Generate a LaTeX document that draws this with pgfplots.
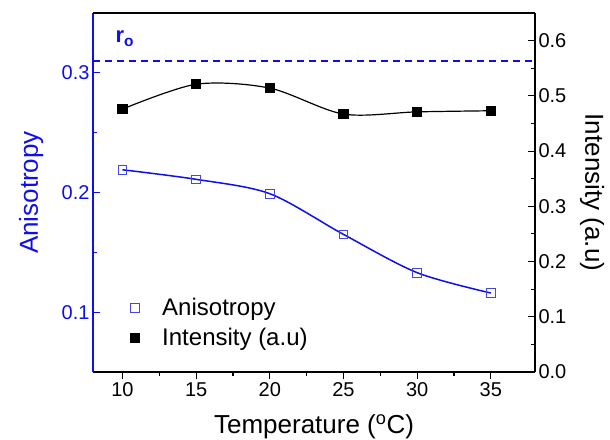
\documentclass[border=0pt]{standalone}
\usepackage{pgfplots}
\pgfplotsset{compat=1.18}
\usepackage{fontspec}
\setmainfont{Liberation Sans}
\definecolor{ablue}{RGB}{15,15,235}
\definecolor{mblue}{RGB}{70,70,230}
\begin{document}
\begin{tikzpicture}[x=1pt,y=1pt]
\useasboundingbox (0,0) rectangle (610,439);
\pgfplotsset{
  common/.style={
    at={(93pt,67pt)}, anchor=south west,
    width=442pt, height=359pt, scale only axis,
    xmin=8, xmax=38,
    major tick length=7pt, minor tick length=4pt,
    ticklabel style={font=\fontsize{20}{24}\selectfont},
    /pgf/number format/assume math mode=true,
    /pgf/number format/fixed, /pgf/number format/fixed zerofill,
    /pgf/number format/precision=1,
    axis line style={line width=1.3pt},
    every tick/.style={line width=1.1pt},
    xtick align=outside, ytick align=inside,
  }
}
\begin{axis}[common,
  ymin=0.05, ymax=0.35,
  axis y line*=left, axis x line*=bottom,
  xtick={10,15,20,25,30,35}, minor x tick num=1,
  xticklabel style={/pgf/number format/precision=0, /pgf/number format/fixed zerofill=false},
  ytick={0.1,0.2,0.3}, minor y tick num=1,
  y axis line style={ablue},
  ytick style={ablue, line width=1.1pt},
  minor y tick style={ablue},
  yticklabel style={text=ablue},
  every axis y label/.style={at={(axis description cs:-0.14,0.5)}, anchor=center, rotate=90},
  every axis x label/.style={at={(axis description cs:0.5,-0.153)}, anchor=center},
  ylabel={\textcolor{ablue}{Anisotropy}},
  xlabel={Temperature (\textsuperscript{o}C)},
  label style={font=\fontsize{26}{30}\selectfont},
]
\addplot[ablue, line width=1.5pt, dash pattern=on 7pt off 5pt] coordinates {(8,0.31) (38,0.31)};
\addplot[ablue, line width=1.5pt, smooth, mark=square, mark size=4.3pt,
  mark options={solid, mblue, line width=0.9pt, fill=none}] coordinates {
  (10,0.219) (15,0.211) (20,0.199) (25,0.165) (30,0.133) (35,0.116)};
\node[ablue, anchor=base west, font=\fontsize{22}{26}\selectfont\bfseries] at (axis cs:9.29,0.325) {r\textsubscript{o}};
\end{axis}
\begin{axis}[common,
  ymin=0, ymax=0.65,
  axis y line*=right, axis x line*=top,
  xtick=\empty,
  ytick={0,0.1,0.2,0.3,0.4,0.5,0.6}, minor y tick num=1,
  every axis y label/.style={at={(axis description cs:1.129,0.5)}, anchor=center, rotate=-90},
  ylabel={Intensity (a.u)},
  label style={font=\fontsize{26}{30}\selectfont},
  legend style={draw=none, fill=none, at={(axis description cs:0.077,0.217)}, anchor=north west,
    font=\fontsize{24}{29}\selectfont, row sep=7pt, cells={anchor=west},
    /tikz/every odd column/.append style={column sep=21pt}},
]
\addlegendimage{only marks, mark=square, mark size=4.3pt, mblue, line width=0.9pt}
\addlegendentry{Anisotropy}
\addlegendimage{only marks, mark=square*, mark size=4.5pt, black}
\addlegendentry{Intensity (a.u)}
\addplot[black, line width=1.2pt, smooth, mark=square*, mark size=4.5pt, forget plot] coordinates {
  (10,0.476) (15,0.521) (20,0.514) (25,0.467) (30,0.471) (35,0.473)};
\end{axis}
\end{tikzpicture}
\end{document}
